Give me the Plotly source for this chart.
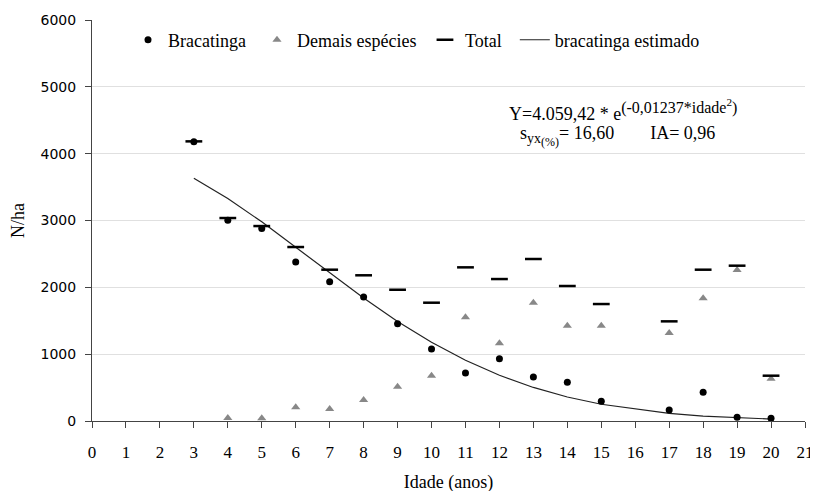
import plotly.graph_objects as go

idade_brac = [3, 4, 5, 6, 7, 8, 9, 10, 11, 12, 13, 14, 15, 17, 18, 19, 20]
bracatinga = [4180, 3005, 2880, 2380, 2085, 1855, 1455, 1077, 718, 930, 658, 580, 297, 165, 430, 55, 40]

idade_dem = [4, 5, 6, 7, 8, 9, 10, 11, 12, 13, 14, 15, 17, 18, 19, 20]
demais = [45, 40, 205, 180, 314, 513, 678, 1551, 1162, 1770, 1426, 1426, 1316, 1835, 2259, 633]

idade_tot = [3, 4, 5, 6, 7, 8, 9, 10, 11, 12, 13, 14, 15, 17, 18, 19, 20]
total = [4184, 3037, 2917, 2603, 2264, 2180, 1964, 1770, 2299, 2124, 2424, 2020, 1750, 1491, 2264, 2324, 678]

idade_est = [3, 4, 5, 6, 7, 8, 9, 10, 11, 12, 13, 14, 15, 17, 18, 19, 20]
estimado = [3632, 3330, 2980, 2601, 2214, 1839, 1490, 1178, 909, 684, 502, 359, 251, 114, 74, 47, 29]

SERIF = "Liberation Serif"
SANS = "DejaVu Sans"

fig = go.Figure()
fig.add_trace(go.Scatter(x=idade_est, y=estimado, mode="lines", name="bracatinga estimado",
                         line=dict(color="#222222", width=1.2), legend="legend4"))
fig.add_trace(go.Scatter(x=idade_dem, y=demais, mode="markers", name="Demais espécies",
                         marker=dict(symbol="triangle-up", size=8, color="#888888"), legend="legend2"))
fig.add_trace(go.Scatter(x=idade_brac, y=bracatinga, mode="markers", name="Bracatinga",
                         marker=dict(symbol="circle", size=7, color="black"), legend="legend"))
fig.add_trace(go.Scatter(x=idade_tot, y=total, mode="markers", name="Total",
                         marker=dict(symbol="line-ew", size=12, color="black",
                                     line=dict(color="black", width=2.5)), legend="legend3"))

def leg(x):
    return dict(x=x, orientation="h", y=0.95, xanchor="left", yanchor="middle",
                font=dict(family=SERIF, size=18, color="black"),
                bgcolor="rgba(0,0,0,0)", itemwidth=30)

fig.update_layout(
    width=818, height=491,
    margin=dict(l=84, r=21, t=12, b=78, autoexpand=False),
    paper_bgcolor="white", plot_bgcolor="white",
    font=dict(family=SERIF, size=16, color="black"),
    showlegend=True,
    legend=leg(0.0505),
    legend2=leg(0.2314),
    legend3=leg(0.467),
    legend4=leg(0.593),
    xaxis=dict(range=[0, 21], dtick=1, tick0=0, showgrid=False, zeroline=False,
               showline=True, linecolor="#444444", linewidth=1, automargin=False,
               ticks="outside", ticklen=6, tickcolor="#444444", ticklabelstandoff=10,
               title=dict(text="Idade (anos)", font=dict(family=SERIF, size=18), standoff=13),
               tickfont=dict(family=SERIF, size=17)),
    yaxis=dict(range=[0, 6000], dtick=1000, showgrid=True, gridcolor="#e0e0e0", gridwidth=1,
               zeroline=False, showline=True, linecolor="#444444", linewidth=1, automargin=False,
               ticks="outside", ticklen=6, tickcolor="#444444", ticklabelstandoff=6,
               title=dict(text="N/ha", font=dict(family=SERIF, size=18), standoff=18),
               tickfont=dict(family=SANS, size=14)),
)

fig.add_annotation(x=0.582, y=0.775, xref="paper", yref="paper", showarrow=False,
                   text="Y=4.059,42 * e<sup><span style='font-size:16px'>(-0,01237*idade<sup>2</sup>)</span></sup>",
                   font=dict(family=SERIF, size=18), xanchor="left", yanchor="middle")
fig.add_annotation(x=0.5975, y=0.71, xref="paper", yref="paper", showarrow=False,
                   text="s<sub><span style='font-size:14px'>yx<sub><span style='font-size:12px'>(%)</span></sub></span></sub>= 16,60"
                        "\u00a0\u00a0\u00a0\u00a0\u00a0\u00a0\u00a0\u00a0IA= 0,96",
                   font=dict(family=SERIF, size=18), xanchor="left", yanchor="middle")

fig.write_html("out.html")
